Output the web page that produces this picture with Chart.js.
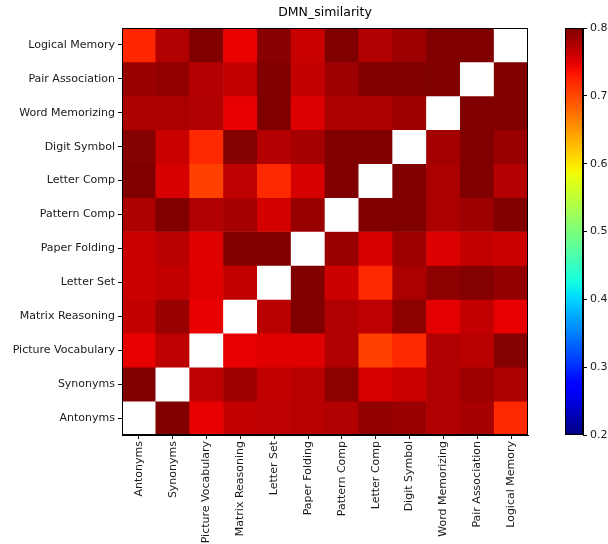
<!DOCTYPE html>
<html>
<head>
<meta charset="utf-8">
<script src="https://cdn.jsdelivr.net/npm/chart.js@4.4.1/dist/chart.umd.min.js"></script>
<style>
  html, body { margin: 0; padding: 0; background: #fff; }
  #wrap { position: relative; width: 608px; height: 544px; overflow: hidden; }
  #heat { position: absolute; left: 0; top: 0; }
  #bar { position: absolute; left: 540px; top: 0; }
</style>
</head>
<body>
<div id="wrap">
  <canvas id="heat" width="540" height="544"></canvas>
  <canvas id="bar" width="68" height="544"></canvas>
</div>
<script>
// column order (x axis, left to right)
const columns = ["Antonyms", "Synonyms", "Picture Vocabulary", "Matrix Reasoning", "Letter Set",
  "Paper Folding", "Pattern Comp", "Letter Comp", "Digit Symbol", "Word Memorizing",
  "Pair Association", "Logical Memory"];
// row order (y axis, top to bottom)
const rowLabels = ["Logical Memory", "Pair Association", "Word Memorizing", "Digit Symbol",
  "Letter Comp", "Pattern Comp", "Paper Folding", "Letter Set", "Matrix Reasoning",
  "Picture Vocabulary", "Synonyms", "Antonyms"];

// similarity per row, null = diagonal (blank)
const logicalMemory     = [0.722, 0.775, 0.80, 0.745, 0.795, 0.762, 0.80, 0.775, 0.785, 0.80, 0.80, null];
const pairAssociation   = [0.787, 0.79, 0.773, 0.765, 0.80, 0.765, 0.785, 0.80, 0.80, 0.80, null, 0.80];
const wordMemorizing    = [0.778, 0.778, 0.775, 0.746, 0.80, 0.752, 0.778, 0.778, 0.785, null, 0.80, 0.80];
const digitSymbol       = [0.797, 0.762, 0.72, 0.797, 0.773, 0.781, 0.80, 0.80, null, 0.781, 0.80, 0.787];
const letterComp        = [0.80, 0.755, 0.705, 0.768, 0.72, 0.755, 0.80, null, 0.80, 0.778, 0.80, 0.773];
const patternComp       = [0.778, 0.80, 0.775, 0.78, 0.757, 0.787, null, 0.80, 0.80, 0.778, 0.785, 0.80];
const paperFolding      = [0.762, 0.77, 0.75, 0.80, 0.80, null, 0.787, 0.755, 0.785, 0.752, 0.765, 0.76];
const letterSet         = [0.762, 0.765, 0.75, 0.765, null, 0.80, 0.76, 0.72, 0.778, 0.793, 0.797, 0.79];
const matrixReasoning   = [0.765, 0.787, 0.746, null, 0.77, 0.80, 0.775, 0.768, 0.793, 0.748, 0.765, 0.746];
const pictureVocabulary = [0.746, 0.768, null, 0.746, 0.75, 0.75, 0.775, 0.705, 0.72, 0.775, 0.77, 0.797];
const synonyms          = [0.80, null, 0.768, 0.785, 0.765, 0.77, 0.793, 0.755, 0.762, 0.775, 0.785, 0.778];
const antonyms          = [null, 0.80, 0.746, 0.765, 0.768, 0.77, 0.775, 0.79, 0.787, 0.775, 0.78, 0.72];

const rows = [logicalMemory, pairAssociation, wordMemorizing, digitSymbol, letterComp, patternComp,
  paperFolding, letterSet, matrixReasoning, pictureVocabulary, synonyms, antonyms];

const vmin = 0.2;
const vmax = 0.8;
const colorbarTicks = [0.2, 0.3, 0.4, 0.5, 0.6, 0.7, 0.8];

// matplotlib "jet" colormap
const seg = (pts, t) => {
  for (let i = 1; i < pts.length; i++) {
    if (t <= pts[i][0]) {
      const [x0, y0] = pts[i - 1];
      const [x1, y1] = pts[i];
      return y0 + (y1 - y0) * (t - x0) / (x1 - x0);
    }
  }
  return pts[pts.length - 1][1];
};
const jet = (v) => {
  let t = (v - vmin) / (vmax - vmin);
  t = Math.max(0, Math.min(1, t));
  const r = seg([[0, 0], [0.35, 0], [0.66, 1], [0.89, 1], [1, 0.5]], t);
  const g = seg([[0, 0], [0.125, 0], [0.375, 1], [0.64, 1], [0.91, 0], [1, 0]], t);
  const b = seg([[0, 0.5], [0.11, 1], [0.34, 1], [0.65, 0], [1, 0]], t);
  return `rgb(${Math.round(r * 255)},${Math.round(g * 255)},${Math.round(b * 255)})`;
};

const font = { family: "'DejaVu Sans', sans-serif", size: 11 };
const textColor = "#1a1a1a";

// black box round the plot area
const frame = {
  id: "frame",
  afterDraw(chart) {
    const { ctx, chartArea: a } = chart;
    ctx.save();
    ctx.strokeStyle = "#000";
    ctx.lineWidth = 1;
    ctx.strokeRect(a.left + 0.5, a.top + 0.5, a.right - a.left - 1, a.bottom - a.top - 1);
    ctx.restore();
  },
};

const datasets = rows.map((values, r) => {
  const k = rows.length - 1 - r;
  return {
    data: columns.map(() => [k, k + 1]),
    backgroundColor: values.map((v) => (v == null ? "#ffffff" : jet(v))),
    borderWidth: 0,
    barPercentage: 1,
    categoryPercentage: 1,
    grouped: false,
  };
});

new Chart(document.getElementById("heat"), {
  type: "bar",
  data: { labels: columns, datasets },
  plugins: [frame],
  options: {
    responsive: false,
    animation: false,
    layout: { padding: { right: 12 } },
    plugins: {
      legend: { display: false },
      tooltip: { enabled: false },
      title: {
        display: true,
        text: "DMN_similarity",
        color: "#000",
        fullSize: false,
        font: { family: font.family, size: 12.5, weight: "normal" },
        padding: { top: 5, bottom: 8 },
      },
    },
    scales: {
      x: {
        ticks: { font, color: textColor, autoSkip: false, minRotation: 90, maxRotation: 90, padding: 2 },
        grid: { display: true, drawOnChartArea: false, offset: false, tickLength: 4, color: "#000" },
        border: { display: true, color: "#000" },
        afterFit: (scale) => { scale.height = 109; },
      },
      y: {
        min: 0,
        max: rows.length,
        afterBuildTicks: (scale) => {
          scale.ticks = rowLabels.map((_, i) => ({ value: i + 0.5 }));
        },
        ticks: {
          font,
          color: textColor,
          padding: 3,
          callback: (value, index) => rowLabels[rowLabels.length - 1 - index],
        },
        grid: { display: true, drawOnChartArea: false, tickLength: 4, color: "#000" },
        border: { display: true, color: "#000" },
        afterFit: (scale) => { scale.width = 122; },
      },
    },
  },
});

// colour bar
new Chart(document.getElementById("bar"), {
  type: "bar",
  data: {
    labels: ["scale"],
    datasets: [{
      data: [[vmin, vmax]],
      barPercentage: 1,
      categoryPercentage: 1,
      borderWidth: 0,
      backgroundColor: (context) => {
        const a = context.chart.chartArea;
        if (!a) return null;
        const grad = context.chart.ctx.createLinearGradient(0, a.bottom, 0, a.top);
        for (let i = 0; i <= 60; i++) {
          grad.addColorStop(i / 60, jet(vmin + (vmax - vmin) * i / 60));
        }
        return grad;
      },
    }],
  },
  plugins: [frame],
  options: {
    responsive: false,
    animation: false,
    layout: { padding: { left: 25, top: 28, bottom: 109 } },
    plugins: { legend: { display: false }, tooltip: { enabled: false } },
    scales: {
      x: { display: false },
      y: {
        position: "right",
        min: vmin,
        max: vmax,
        afterBuildTicks: (scale) => {
          scale.ticks = colorbarTicks.map((v) => ({ value: v }));
        },
        ticks: { font, color: textColor, padding: 3, callback: (v) => v.toFixed(1) },
        grid: { display: true, drawOnChartArea: false, tickLength: 4, color: "#000" },
        border: { display: true, color: "#000" },
        afterFit: (scale) => { scale.width = 25; },
      },
    },
  },
});
</script>
</body>
</html>
